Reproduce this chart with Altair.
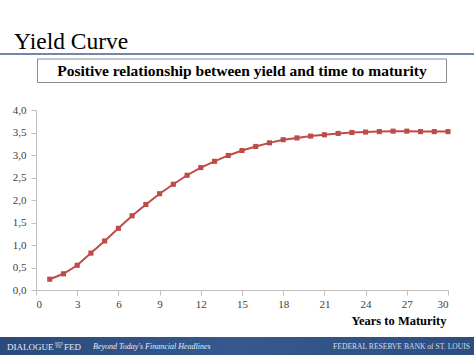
import altair as alt
import pandas as pd

years = list(range(1, 31))
yields = [0.24, 0.36, 0.55, 0.82, 1.09, 1.37, 1.65, 1.90, 2.14, 2.35,
          2.55, 2.72, 2.86, 2.99, 3.10, 3.19, 3.27, 3.34, 3.38, 3.42,
          3.45, 3.48, 3.50, 3.51, 3.52, 3.53, 3.53, 3.52, 3.52, 3.52]
x_ticks = list(range(0, 31, 3))
y_ticks = [0.0, 0.5, 1.0, 1.5, 2.0, 2.5, 3.0, 3.5, 4.0]

title_text = "Yield Curve"
subtitle_text = "Positive relationship between yield and time to maturity"
x_title = "Years to Maturity"

df = pd.DataFrame({"year": years, "yield": yields})
one = pd.DataFrame({"k": [0]})

SERIF = "Liberation Serif"
RED = "#be4b48"
OX, OY = 36, 110  # plot origin in page pixels

x_enc = alt.X("year:Q", scale=alt.Scale(domain=[0, 30], nice=False),
              axis=alt.Axis(values=x_ticks, title=x_title, grid=False, labelOverlap=False,
                            labelPadding=3,
                            titleAnchor="end", titleAlign="right",
                            titleFont=SERIF, titleFontSize=12.5, titleFontWeight="bold",
                            titleColor="#000000", titlePadding=5, titleX=410))
y_enc = alt.Y("yield:Q", scale=alt.Scale(domain=[0, 4], nice=False),
              axis=alt.Axis(values=y_ticks, tickCount=9, title=None, grid=False,
                            labelOverlap=False, labelPadding=5,
                            labelExpr="replace(format(datum.value, '.1f'), '.', ',')"))

base = alt.Chart(df).encode(x=x_enc, y=y_enc)
line = base.mark_line(color=RED, strokeWidth=2)
pts = base.mark_point(shape="square", filled=True, color=RED, size=26, opacity=1)

def px(v):
    return alt.value(v - OX)

def py(v):
    return alt.value(v - OY)

def txt(text, x, y, size, color="#000000", align="left", weight="normal", style="normal"):
    return alt.Chart(one).mark_text(text=text, font=SERIF, fontSize=size, align=align,
                                    fontWeight=weight, fontStyle=style,
                                    baseline="alphabetic", color=color).encode(x=px(x), y=py(y))

title = txt(title_text, 14, 49, 23.5)
rule = alt.Chart(one).mark_rule(color="#6f88b0", strokeWidth=2).encode(
    x=px(0), x2=px(474), y=py(54))
box = alt.Chart(one).mark_rect(fill="white", stroke="#8c8c8c", strokeWidth=1).encode(
    x=px(37.5), x2=px(446.5), y=py(59), y2=py(82.5))
sub = txt(subtitle_text, 242, 76, 15.5, align="center", weight="bold")

footer = alt.Chart(one).mark_rect(
    fill=alt.Gradient(gradient="linear", x1=0, x2=1, y1=0, y2=0,
                      stops=[alt.GradientStop(offset=0, color="#2a4a7c"),
                             alt.GradientStop(offset=0.5, color="#35598e"),
                             alt.GradientStop(offset=1, color="#2c4d80")])).encode(
    x=px(0), x2=px(474), y=py(337), y2=py(355))
FC = "#e8edf5"
f1 = txt("DIALOGUE", 7, 350, 9, color=FC)
f2a = txt("WITH", 55, 344.5, 3, color=FC)
f2b = txt("THE", 55.5, 348, 3, color=FC)
f2 = txt("FED", 64, 350, 9, color=FC)
f3 = txt("Beyond Today's Financial Headlines", 93, 349, 8, color=FC, style="italic")
f4 = txt("FEDERAL RESERVE BANK of ST. LOUIS", 470, 349, 7.6, color="#d6dde8", align="right")

chart = alt.layer(line, pts, rule, title, box, sub, footer, f1, f2a, f2b, f2, f3, f4).properties(
    width=412, height=180, autosize=alt.AutoSizeParams(type="none"),
    padding={"left": OX, "top": OY, "right": 26, "bottom": 65},
    background="white"
).configure_view(stroke=None).configure_axis(
    labelFont=SERIF, labelFontSize=11, labelColor="#404040",
    domainColor="#bfbfbf", tickColor="#bfbfbf", tickSize=5
)

chart.save("out.html", embed_options={"renderer": "svg", "actions": False})
